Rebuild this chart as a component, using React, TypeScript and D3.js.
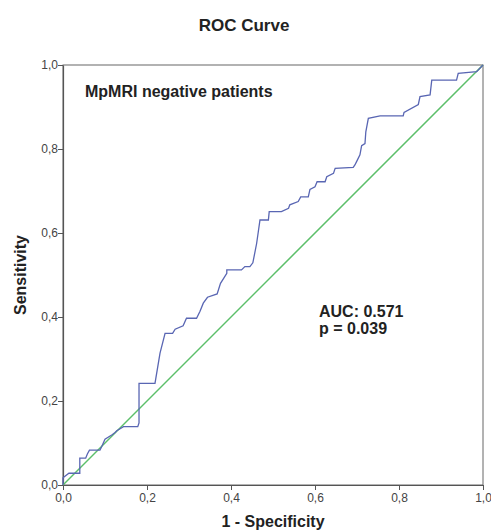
import React, { useEffect, useRef } from "react";
import * as d3 from "d3";

// ROC curve points (1 - specificity, sensitivity)
const fpr = [0, 0, 0.014, 0.04, 0.04, 0.054, 0.058, 0.063, 0.088, 0.092, 0.1, 0.116, 0.124, 0.128, 0.144, 0.178, 0.181, 0.181,
  0.219, 0.221, 0.231, 0.243, 0.261, 0.267, 0.286, 0.294, 0.318, 0.326, 0.334, 0.344, 0.367, 0.375, 0.39, 0.39, 0.425, 0.433,
  0.445, 0.452, 0.461, 0.465, 0.469, 0.489, 0.491, 0.52, 0.537, 0.54, 0.56, 0.566, 0.584, 0.588, 0.6, 0.605, 0.624, 0.628,
  0.644, 0.648, 0.691, 0.695, 0.699, 0.707, 0.711, 0.719, 0.721, 0.727, 0.755, 0.81, 0.812, 0.846, 0.85, 0.874, 0.878, 0.937,
  0.941, 0.985, 1];
const tpr = [0, 0.017, 0.028, 0.028, 0.064, 0.064, 0.074, 0.083, 0.083, 0.091, 0.109, 0.119, 0.125, 0.129, 0.139, 0.139, 0.148, 0.242,
  0.242, 0.254, 0.314, 0.361, 0.361, 0.371, 0.379, 0.397, 0.397, 0.413, 0.433, 0.447, 0.455, 0.48, 0.504, 0.512, 0.512, 0.52,
  0.52, 0.529, 0.575, 0.603, 0.631, 0.631, 0.651, 0.651, 0.659, 0.667, 0.675, 0.686, 0.686, 0.704, 0.71, 0.722, 0.722, 0.734,
  0.742, 0.754, 0.756, 0.762, 0.77, 0.786, 0.808, 0.813, 0.841, 0.873, 0.879, 0.879, 0.887, 0.906, 0.925, 0.929, 0.964, 0.964,
  0.98, 0.984, 1];
const ticks = [0, 0.2, 0.4, 0.6, 0.8, 1.0];

const App = () => {
  const ref = useRef<SVGSVGElement>(null);

  useEffect(() => {
    const svg = d3.select(ref.current);
    svg.selectAll("*").remove();

    const left = 63, top = 65, size = 420;
    const x = d3.scaleLinear().domain([0, 1]).range([left, left + size]);
    const y = d3.scaleLinear().domain([0, 1]).range([top + size, top]);
    const fmt = (d: number) => d3.format(".1f")(d).replace(".", ",");
    const font = "'Liberation Sans', Arial, sans-serif";

    svg.append("rect").attr("width", 491).attr("height", 532).attr("fill", "white");

    // Title
    svg.append("text")
      .attr("x", 244).attr("y", 31)
      .attr("text-anchor", "middle")
      .attr("font-family", font).attr("font-weight", "bold").attr("font-size", 17)
      .attr("fill", "#222")
      .text("ROC Curve");

    // frame
    svg.append("rect")
      .attr("x", left).attr("y", top).attr("width", size).attr("height", size)
      .attr("fill", "none").attr("stroke", "#666").attr("stroke-width", 1);

    // axes
    const xAxis = svg.append("g")
      .attr("transform", `translate(0,${top + size})`)
      .call(d3.axisBottom(x).tickValues(ticks).tickFormat(fmt as any).tickSize(5).tickSizeOuter(0));
    const yAxis = svg.append("g")
      .attr("transform", `translate(${left},0)`)
      .call(d3.axisLeft(y).tickValues(ticks).tickFormat(fmt as any).tickSize(5).tickSizeOuter(0));
    [xAxis, yAxis].forEach(a => {
      a.select(".domain").attr("stroke", "#555").attr("stroke-width", 1.2);
      a.selectAll("line").attr("stroke", "#555");
      a.selectAll("text").attr("font-family", font).attr("font-size", 12).attr("fill", "#444");
    });
    yAxis.selectAll("text").attr("x", -5);
    xAxis.selectAll("text").attr("y", 8);

    // reference diagonal
    svg.append("line")
      .attr("x1", x(0)).attr("y1", y(0)).attr("x2", x(1)).attr("y2", y(1))
      .attr("stroke", "#5cbf6a").attr("stroke-width", 1.5);

    // ROC curve
    const pts = fpr.map((d, i) => [d, tpr[i]] as [number, number]);
    svg.append("path")
      .datum(pts)
      .attr("fill", "none")
      .attr("stroke", "#5966b3")
      .attr("stroke-width", 1.3)
      .attr("d", d3.line<[number, number]>().x(d => x(d[0])).y(d => y(d[1])));

    // labels
    const bold = (tx: number, ty: number, s: string, size: number) =>
      svg.append("text")
        .attr("x", tx).attr("y", ty)
        .attr("font-family", font).attr("font-weight", "bold").attr("font-size", size)
        .attr("fill", "#222")
        .text(s);
    bold(85, 97, "MpMRI negative patients", 16);
    bold(319, 317, "AUC: 0.571", 16);
    bold(319, 334, "p = 0.039", 16);

    // axis titles
    bold(x(0.5), 527, "1 - Specificity", 16).attr("text-anchor", "middle");
    svg.append("text")
      .attr("transform", `translate(26,${y(0.5)}) rotate(-90)`)
      .attr("text-anchor", "middle")
      .attr("font-family", font).attr("font-weight", "bold").attr("font-size", 16)
      .attr("fill", "#222")
      .text("Sensitivity");
  }, []);

  return <svg ref={ref} width={491} height={532} style={{ position: "absolute", left: 0, top: 0 }}></svg>;
};

export default App;
